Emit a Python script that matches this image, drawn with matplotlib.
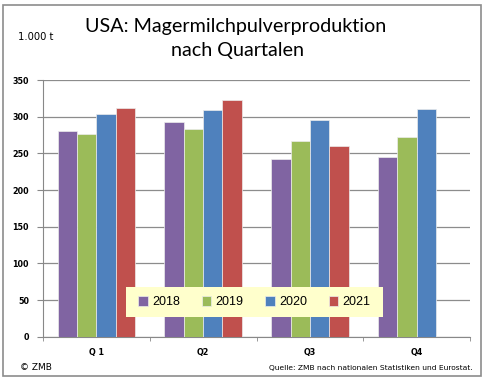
import numpy as np
import matplotlib.pyplot as plt
from matplotlib.patches import Rectangle

quarters = ["Q 1", "Q2", "Q3", "Q4"]
years = ["2018", "2019", "2020", "2021"]
values = {
    "2018": [280, 293, 242, 245],
    "2019": [277, 283, 267, 272],
    "2020": [303, 309, 295, 310],
    "2021": [312, 323, 260, np.nan],
}
colors = ["#8064A2", "#9BBB59", "#4F81BD", "#C0504D"]

W, H = 486, 382
fig = plt.figure(figsize=(W / 100, H / 100), dpi=100)

# outer frame of the chart
fig.patches.append(Rectangle((3 / W, 6 / H), 478 / W, 371 / H,
                             transform=fig.transFigure, fill=False,
                             edgecolor="#8c8c8c", linewidth=1.2))

ax = fig.add_axes([43 / W, 45.3 / H, 427 / W, 256.7 / H])

x = np.arange(len(quarters))
width = 0.181
handles = []
for i, year in enumerate(years):
    b = ax.bar(x + (i - 1.5) * width, values[year], width, color=colors[i],
               edgecolor="#ececec", linewidth=0.5, label=year, zorder=3)
    handles.append(b)

ax.set_xlim(-0.5, 3.5)
ax.set_ylim(0, 350)
ax.set_yticks(range(0, 351, 50))
ax.set_xticks(x)
ax.set_xticklabels(quarters)
ax.set_xticks(np.arange(-0.5, 4, 1), minor=True)
ax.tick_params(axis="x", which="major", length=0, pad=8)
ax.tick_params(axis="x", which="minor", length=3, color="#888888")
ax.tick_params(axis="y", length=4, color="#888888", pad=6)
for lab in ax.get_xticklabels() + ax.get_yticklabels():
    lab.set_fontsize(5.8)
    lab.set_fontweight("bold")
    lab.set_family("DejaVu Sans")

ax.grid(axis="y", color="#8c8c8c", linewidth=0.9, zorder=0)
for s in ["top", "right"]:
    ax.spines[s].set_visible(False)
for s in ["left", "bottom"]:
    ax.spines[s].set_color("#888888")

# legend box (pale yellow) with a frameless legend on top
ax.add_patch(Rectangle((83 / 427, 0.0756), 257 / 427, 0.1169,
                       transform=ax.transAxes, facecolor="#FFFFCC",
                       edgecolor="none", zorder=4))
leg = ax.legend(handles=handles, labels=years, ncol=4, loc="center",
                bbox_to_anchor=(0.4953, 0.134), frameon=False,
                handlelength=0.75, handleheight=0.75, columnspacing=1.75,
                handletextpad=0.35, borderpad=0,
                prop={"family": "Liberation Sans", "size": 9})
leg.set_zorder(5)

fig.text(235.5 / W, (H - 31.7) / H, "USA: Magermilchpulverproduktion",
         ha="center", va="baseline", family="Lato", fontsize=14.2)
fig.text(237.5 / W, (H - 56) / H, "nach Quartalen", ha="center",
         va="baseline", family="Lato", fontsize=14.2)
fig.text(18 / W, (H - 40) / H, "1.000 t", ha="left", va="baseline",
         family="DejaVu Sans", fontsize=7.2)
fig.text(20 / W, (H - 370) / H, "\u00a9 ZMB", ha="left", va="baseline",
         family="DejaVu Sans", fontsize=6.5)
fig.text(473 / W, (H - 370) / H,
         "Quelle: ZMB nach nationalen Statistiken und Eurostat.",
         ha="right", va="baseline", family="DejaVu Sans", fontsize=5.4)

fig.savefig("out.png", dpi=100)
